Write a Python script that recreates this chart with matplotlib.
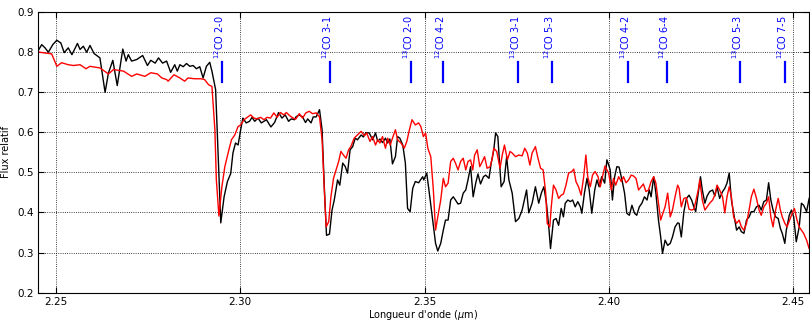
import numpy as np
import matplotlib.pyplot as plt

# spectre observe (noir)
obs_lam = [2.2452, 2.2461, 2.2470, 2.2479, 2.2491, 2.2502, 2.2513, 2.2522, 2.2533, 2.2543,
           2.2558, 2.2565, 2.2574, 2.2583, 2.2592, 2.2603, 2.2619, 2.2633, 2.2642, 2.2654,
           2.2666, 2.2681, 2.2690, 2.2696, 2.2705, 2.2719, 2.2735, 2.2748, 2.2757, 2.2769,
           2.2778, 2.2789, 2.2800, 2.2811, 2.2822, 2.2829, 2.2836, 2.2845, 2.2854, 2.2863,
           2.2872, 2.2881, 2.2890, 2.2899, 2.2908, 2.2917, 2.2923, 2.2933, 2.2940, 2.2947,
           2.2956, 2.2965, 2.2974, 2.2980, 2.2987, 2.2994, 2.3001, 2.3007, 2.3016, 2.3025,
           2.3032, 2.3039, 2.3048, 2.3057, 2.3071, 2.3083, 2.3093, 2.3104, 2.3113, 2.3122,
           2.3131, 2.3138, 2.3147, 2.3151, 2.3160, 2.3169, 2.3177, 2.3183, 2.3192, 2.3198,
           2.3206, 2.3215, 2.3222, 2.3228, 2.3234, 2.3242, 2.3249, 2.3255, 2.3264, 2.3270,
           2.3278, 2.3285, 2.3291, 2.3298, 2.3305, 2.3312, 2.3318, 2.3328, 2.3334, 2.3341,
           2.3350, 2.3359, 2.3367, 2.3373, 2.3379, 2.3386, 2.3394, 2.3400, 2.3406, 2.3413,
           2.3421, 2.3427, 2.3433, 2.3441, 2.3448, 2.3454, 2.3461, 2.3468, 2.3475, 2.3484,
           2.3495, 2.3498, 2.3506, 2.3512, 2.3521, 2.3530, 2.3536, 2.3544, 2.3551, 2.3557,
           2.3564, 2.3571, 2.3578, 2.3584, 2.3591, 2.3598, 2.3605, 2.3612, 2.3618, 2.3625,
           2.3632, 2.3639, 2.3645, 2.3652, 2.3660, 2.3666, 2.3675, 2.3681, 2.3688, 2.3693,
           2.3699, 2.3708, 2.3716, 2.3723, 2.3729, 2.3738, 2.3747, 2.3756, 2.3765, 2.3777,
           2.3783, 2.3792, 2.3801, 2.3810, 2.3817, 2.3824, 2.3831, 2.3838, 2.3842, 2.3850,
           2.3857, 2.3864, 2.3871, 2.3877, 2.3882, 2.3889, 2.3896, 2.3902, 2.3909, 2.3916,
           2.3923, 2.3927, 2.3934, 2.3941, 2.3947, 2.3954, 2.3962, 2.3968, 2.3974, 2.3981,
           2.3989, 2.3995, 2.4000, 2.4004, 2.4010, 2.4016, 2.4022, 2.4028, 2.4036, 2.4043,
           2.4049, 2.4056, 2.4063, 2.4070, 2.4076, 2.4083, 2.4090, 2.4097, 2.4104, 2.4110,
           2.4115, 2.4122, 2.4128, 2.4135, 2.4141, 2.4146, 2.4153, 2.4160, 2.4167, 2.4173,
           2.4180, 2.4187, 2.4191, 2.4197, 2.4204, 2.4211, 2.4218, 2.4225, 2.4231, 2.4236,
           2.4243, 2.4249, 2.4254, 2.4261, 2.4267, 2.4274, 2.4282, 2.4288, 2.4294, 2.4301,
           2.4309, 2.4315, 2.4321, 2.4327, 2.4333, 2.4339, 2.4347, 2.4354, 2.4360, 2.4367,
           2.4374, 2.4381, 2.4387, 2.4394, 2.4401, 2.4408, 2.4414, 2.4421, 2.4428, 2.4434,
           2.4440, 2.4446, 2.4453, 2.4460, 2.4466, 2.4471, 2.4478, 2.4482, 2.4490, 2.4496,
           2.4502, 2.4509, 2.4517, 2.4523, 2.4529, 2.4537, 2.4544]
obs_flux = [0.804, 0.818, 0.810, 0.799, 0.818, 0.829, 0.822, 0.798, 0.810, 0.793,
            0.821, 0.806, 0.814, 0.799, 0.816, 0.796, 0.785, 0.699, 0.747, 0.779,
            0.716, 0.807, 0.777, 0.793, 0.777, 0.781, 0.791, 0.766, 0.779, 0.772,
            0.785, 0.772, 0.777, 0.749, 0.768, 0.752, 0.768, 0.763, 0.771, 0.764,
            0.766, 0.758, 0.763, 0.735, 0.764, 0.774, 0.752, 0.706, 0.539, 0.374,
            0.439, 0.477, 0.497, 0.548, 0.573, 0.568, 0.606, 0.635, 0.623, 0.627,
            0.637, 0.627, 0.635, 0.623, 0.631, 0.613, 0.624, 0.649, 0.635, 0.643,
            0.627, 0.633, 0.631, 0.638, 0.643, 0.638, 0.624, 0.633, 0.623, 0.638,
            0.638, 0.656, 0.606, 0.464, 0.343, 0.346, 0.406, 0.431, 0.481, 0.468,
            0.523, 0.514, 0.498, 0.556, 0.564, 0.585, 0.581, 0.593, 0.588, 0.599,
            0.598, 0.581, 0.598, 0.577, 0.583, 0.574, 0.585, 0.573, 0.583, 0.521,
            0.539, 0.589, 0.585, 0.568, 0.523, 0.410, 0.402, 0.460, 0.477, 0.474,
            0.489, 0.481, 0.498, 0.456, 0.389, 0.323, 0.304, 0.323, 0.356, 0.381,
            0.381, 0.431, 0.439, 0.431, 0.421, 0.423, 0.448, 0.456, 0.481, 0.514,
            0.439, 0.473, 0.496, 0.471, 0.489, 0.493, 0.485, 0.523, 0.556, 0.598,
            0.589, 0.464, 0.477, 0.539, 0.481, 0.448, 0.377, 0.385, 0.406, 0.456,
            0.399, 0.423, 0.464, 0.423, 0.448, 0.464, 0.423, 0.356, 0.310, 0.381,
            0.385, 0.368, 0.410, 0.389, 0.423, 0.431, 0.427, 0.431, 0.414, 0.427,
            0.414, 0.398, 0.448, 0.485, 0.456, 0.398, 0.456, 0.481, 0.464, 0.489,
            0.473, 0.531, 0.518, 0.506, 0.431, 0.489, 0.514, 0.513, 0.481, 0.448,
            0.398, 0.393, 0.418, 0.398, 0.393, 0.414, 0.423, 0.439, 0.431, 0.456,
            0.439, 0.489, 0.448, 0.381, 0.339, 0.298, 0.331, 0.318, 0.323, 0.339,
            0.364, 0.374, 0.373, 0.339, 0.402, 0.435, 0.443, 0.431, 0.414, 0.402,
            0.448, 0.489, 0.456, 0.423, 0.441, 0.452, 0.456, 0.441, 0.464, 0.435,
            0.452, 0.460, 0.473, 0.498, 0.431, 0.398, 0.356, 0.364, 0.352, 0.348,
            0.381, 0.389, 0.402, 0.402, 0.414, 0.418, 0.406, 0.427, 0.431, 0.474,
            0.431, 0.406, 0.389, 0.385, 0.360, 0.348, 0.323, 0.356, 0.393, 0.406,
            0.389, 0.327, 0.364, 0.423, 0.418, 0.402, 0.435]

# modele (rouge)
mod_lam = [2.2448, 2.2488, 2.2502, 2.2515, 2.2533, 2.2547, 2.2565, 2.2581, 2.2592, 2.2619,
           2.2642, 2.2656, 2.2683, 2.2705, 2.2719, 2.2741, 2.2757, 2.2775, 2.2787, 2.2800,
           2.2804, 2.2820, 2.2836, 2.2849, 2.2858, 2.2876, 2.2894, 2.2903, 2.2914, 2.2923,
           2.2931, 2.2935, 2.2942, 2.2950, 2.2958, 2.2969, 2.2976, 2.2985, 2.2994, 2.3001,
           2.3010, 2.3019, 2.3028, 2.3037, 2.3046, 2.3055, 2.3064, 2.3073, 2.3082, 2.3091,
           2.3100, 2.3109, 2.3118, 2.3125, 2.3134, 2.3147, 2.3151, 2.3160, 2.3169, 2.3178,
           2.3187, 2.3196, 2.3206, 2.3215, 2.3222, 2.3228, 2.3233, 2.3240, 2.3246, 2.3253,
           2.3260, 2.3267, 2.3273, 2.3280, 2.3287, 2.3294, 2.3300, 2.3309, 2.3318, 2.3328,
           2.3337, 2.3343, 2.3352, 2.3359, 2.3367, 2.3373, 2.3379, 2.3386, 2.3394, 2.3400,
           2.3407, 2.3413, 2.3421, 2.3427, 2.3436, 2.3445, 2.3452, 2.3459, 2.3466, 2.3475,
           2.3484, 2.3490, 2.3497, 2.3503, 2.3509, 2.3517, 2.3524, 2.3530, 2.3536, 2.3544,
           2.3551, 2.3557, 2.3564, 2.3571, 2.3578, 2.3584, 2.3591, 2.3598, 2.3605, 2.3612,
           2.3618, 2.3625, 2.3631, 2.3636, 2.3643, 2.3650, 2.3657, 2.3663, 2.3670, 2.3678,
           2.3684, 2.3688, 2.3696, 2.3705, 2.3711, 2.3717, 2.3725, 2.3732, 2.3738, 2.3747,
           2.3756, 2.3765, 2.3772, 2.3779, 2.3786, 2.3792, 2.3801, 2.3808, 2.3815, 2.3822,
           2.3829, 2.3833, 2.3840, 2.3844, 2.3850, 2.3857, 2.3864, 2.3871, 2.3877, 2.3884,
           2.3891, 2.3900, 2.3905, 2.3911, 2.3918, 2.3925, 2.3932, 2.3938, 2.3943, 2.3950,
           2.3956, 2.3963, 2.3971, 2.3977, 2.3983, 2.3990, 2.3995, 2.4000, 2.4007, 2.4013,
           2.4019, 2.4027, 2.4034, 2.4040, 2.4047, 2.4054, 2.4061, 2.4067, 2.4074, 2.4081,
           2.4088, 2.4094, 2.4101, 2.4108, 2.4115, 2.4122, 2.4128, 2.4135, 2.4141, 2.4147,
           2.4153, 2.4160, 2.4167, 2.4173, 2.4180, 2.4187, 2.4191, 2.4197, 2.4204, 2.4211,
           2.4218, 2.4225, 2.4231, 2.4236, 2.4243, 2.4247, 2.4254, 2.4261, 2.4267, 2.4274,
           2.4282, 2.4288, 2.4294, 2.4301, 2.4309, 2.4315, 2.4321, 2.4327, 2.4333, 2.4339,
           2.4347, 2.4354, 2.4360, 2.4367, 2.4374, 2.4381, 2.4387, 2.4394, 2.4401, 2.4408,
           2.4414, 2.4421, 2.4428, 2.4434, 2.4440, 2.4446, 2.4453, 2.4460, 2.4466, 2.4471,
           2.4478, 2.4484, 2.4491, 2.4498, 2.4504, 2.4511, 2.4517, 2.4523, 2.4529, 2.4537,
           2.4544]
mod_flux = [0.800, 0.795, 0.764, 0.773, 0.768, 0.766, 0.768, 0.758, 0.764, 0.760,
            0.745, 0.756, 0.752, 0.739, 0.745, 0.739, 0.748, 0.745, 0.735, 0.731,
            0.727, 0.743, 0.735, 0.727, 0.735, 0.733, 0.733, 0.731, 0.718, 0.714,
            0.606, 0.481, 0.391, 0.464, 0.514, 0.556, 0.581, 0.593, 0.614, 0.618,
            0.631, 0.637, 0.643, 0.635, 0.633, 0.637, 0.631, 0.637, 0.635, 0.648,
            0.637, 0.649, 0.643, 0.649, 0.641, 0.633, 0.633, 0.646, 0.635, 0.648,
            0.652, 0.646, 0.648, 0.638, 0.581, 0.456, 0.364, 0.377, 0.439, 0.485,
            0.506, 0.527, 0.552, 0.543, 0.535, 0.556, 0.564, 0.585, 0.593, 0.602,
            0.591, 0.598, 0.577, 0.589, 0.568, 0.581, 0.573, 0.589, 0.560, 0.585,
            0.568, 0.585, 0.606, 0.581, 0.573, 0.560, 0.577, 0.606, 0.631, 0.618,
            0.623, 0.614, 0.589, 0.598, 0.560, 0.539, 0.456, 0.356, 0.389, 0.431,
            0.485, 0.464, 0.473, 0.527, 0.535, 0.523, 0.506, 0.527, 0.535, 0.506,
            0.527, 0.531, 0.506, 0.543, 0.556, 0.514, 0.527, 0.539, 0.510, 0.514,
            0.535, 0.560, 0.552, 0.510, 0.543, 0.568, 0.531, 0.552, 0.548, 0.539,
            0.543, 0.541, 0.560, 0.548, 0.518, 0.548, 0.564, 0.535, 0.510, 0.506,
            0.448, 0.373, 0.364, 0.414, 0.468, 0.456, 0.435, 0.443, 0.446, 0.468,
            0.498, 0.502, 0.508, 0.477, 0.464, 0.443, 0.489, 0.543, 0.489, 0.464,
            0.493, 0.502, 0.489, 0.464, 0.489, 0.516, 0.506, 0.498, 0.456, 0.485,
            0.468, 0.489, 0.477, 0.489, 0.474, 0.481, 0.493, 0.491, 0.485, 0.456,
            0.464, 0.471, 0.452, 0.456, 0.477, 0.489, 0.473, 0.423, 0.381, 0.398,
            0.414, 0.448, 0.389, 0.406, 0.439, 0.468, 0.460, 0.414, 0.435, 0.437,
            0.408, 0.406, 0.408, 0.427, 0.456, 0.481, 0.431, 0.406, 0.414, 0.423,
            0.431, 0.443, 0.468, 0.456, 0.439, 0.399, 0.439, 0.464, 0.439, 0.389,
            0.373, 0.381, 0.364, 0.356, 0.373, 0.406, 0.439, 0.458, 0.435, 0.406,
            0.393, 0.414, 0.423, 0.439, 0.389, 0.364, 0.406, 0.435, 0.406, 0.389,
            0.373, 0.364, 0.381, 0.398, 0.410, 0.381, 0.364, 0.356, 0.348, 0.331,
            0.310]

# tetes de bande du CO
band_lam = [2.2951, 2.3243, 2.3464, 2.3550, 2.3754, 2.3846, 2.4053, 2.4159, 2.4357, 2.4478]
band_iso = ['12', '12', '13', '12', '13', '12', '13', '12', '13', '12']
band_trans = ['2-0', '3-1', '2-0', '4-2', '3-1', '5-3', '4-2', '6-4', '5-3', '7-5']

fig = plt.figure(figsize=(8.1, 3.21), dpi=100)
ax = fig.add_axes([0.0465, 0.088, 0.952, 0.8755])

ax.plot(obs_lam, obs_flux, color='k', lw=1.0)
ax.plot(mod_lam, mod_flux, color='r', lw=1.0)

for lam, iso, tr in zip(band_lam, band_iso, band_trans):
    ax.plot([lam, lam], [0.725, 0.775], color='b', lw=1.6)
    ax.text(lam - 0.0008, 0.782, r'$^{%s}$CO %s' % (iso, tr), color='b', rotation=90,
            ha='center', va='bottom', fontsize=7)

ax.set_xlim(2.245, 2.4543)
ax.set_ylim(0.2, 0.9)
ax.set_xticks(np.arange(2.25, 2.46, 0.05))
ax.set_xticklabels(['2.25', '2.30', '2.35', '2.40', '2.45'])
ax.set_yticks(np.arange(0.2, 0.91, 0.1))
ax.grid(True, color='k', linestyle=':', linewidth=0.6)
ax.tick_params(direction='in', top=True, right=True, labelsize=7.5, length=4, pad=3)
ax.set_xlabel(r"Longueur d'onde ($\mu$m)", fontsize=7, labelpad=1)
ax.set_ylabel('Flux relatif', fontsize=7, labelpad=4)

fig.savefig('out.png', dpi=100)
